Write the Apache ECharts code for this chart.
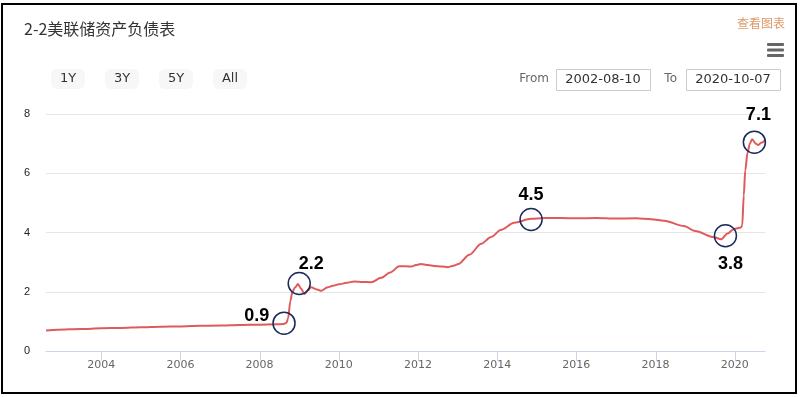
<!DOCTYPE html>
<html>
<head>
<meta charset="utf-8">
<title>2-2美联储资产负债表</title>
<script src="https://cdn.jsdelivr.net/npm/echarts@6.0.0/dist/echarts.min.js"></script>
<style>
  html, body { margin: 0; padding: 0; background: #fff; }
  #chart { position: absolute; left: 0; top: 0; width: 802px; height: 397px; }
  #frame { position: absolute; left: 1px; top: 3px; width: 796px; height: 391px; border: 2px solid #000; box-sizing: border-box; pointer-events: none; }
</style>
</head>
<body>
<div id="chart"></div>
<div id="frame"></div>
<script>
// --- 数据 (万亿美元) ---
const dates = [
    '2002-08-10', '2002-11-25', '2003-07-01', '2004-01-01', '2004-07-01', '2005-01-01',
    '2005-07-01', '2006-01-01', '2006-07-01', '2007-01-01', '2007-07-01', '2008-01-01',
    '2008-05-27', '2008-08-13', '2008-09-05', '2008-09-20', '2008-10-12', '2008-10-30',
    '2008-11-25', '2008-12-20', '2009-01-19', '2009-02-17', '2009-03-22', '2009-04-20',
    '2009-06-13', '2009-07-23', '2009-09-20', '2009-11-06', '2010-01-01', '2010-03-15',
    '2010-05-23', '2010-08-08', '2010-10-27', '2011-01-26', '2011-04-20', '2011-07-13',
    '2011-09-13', '2011-10-31', '2011-12-13', '2012-01-30', '2012-04-01', '2012-05-30',
    '2012-08-07', '2012-10-05', '2012-11-25', '2013-01-08', '2013-04-20', '2013-08-08',
    '2013-11-06', '2014-02-07', '2014-06-07', '2014-11-10', '2015-03-15', '2015-08-15',
    '2016-01-01', '2016-07-01', '2017-01-01', '2017-07-01', '2017-11-25', '2018-03-22',
    '2018-09-20', '2019-01-01', '2019-06-25', '2019-08-29', '2019-10-27', '2019-12-25',
    '2020-02-28', '2020-03-11', '2020-03-25', '2020-04-08', '2020-04-29', '2020-05-20',
    '2020-06-10', '2020-07-15', '2020-08-05', '2020-09-02', '2020-10-07'
];
const balance = [
    0.69, 0.72, 0.74, 0.77, 0.78, 0.80,
    0.82, 0.83, 0.85, 0.86, 0.88, 0.89,
    0.90, 0.91, 0.95, 1.10, 1.70, 2.00,
    2.15, 2.26, 2.10, 1.92, 2.05, 2.15,
    2.08, 2.03, 2.15, 2.20, 2.25, 2.30,
    2.35, 2.33, 2.32, 2.47, 2.65, 2.86,
    2.86, 2.85, 2.90, 2.94, 2.90, 2.87,
    2.85, 2.83, 2.88, 2.94, 3.25, 3.62,
    3.85, 4.09, 4.33, 4.46, 4.49, 4.49,
    4.48, 4.49, 4.47, 4.48, 4.45, 4.40,
    4.22, 4.05, 3.84, 3.77, 3.97, 4.12,
    4.17, 4.24, 5.25, 6.10, 6.70, 7.00,
    7.15, 7.00, 6.95, 7.03, 7.10
];

// 标注圈
const markDates = ['2008-08-14', '2009-01-01', '2014-11-10', '2019-10-08', '2020-07-01'];
const markValues = [0.94, 2.28, 4.44, 3.89, 7.05];
const markLabels = ['0.9', '2.2', '4.5', '3.8', '7.1'];

// 坐标轴
const tickYears = [2004, 2006, 2008, 2010, 2012, 2014, 2016, 2018, 2020];
const fromDate = '2002-08-10';
const toDate = '2020-10-07';
const rangeButtons = ['1Y', '3Y', '5Y', 'All'];

// --- 辅助函数 ---
const toTime = (s) => {
    const [y, m, d] = s.split('-').map(Number);
    return new Date(y, m - 1, d).getTime();
};
const tickTimes = tickYears.map(y => new Date(y, 0, 1).getTime());

// 标注文字位置 [position, distance, offset]
const markLabelLayout = [
    ['left', 3, [0, -7]],
    ['top', 1, [12, 2]],
    ['top', 6, [0, 2]],
    ['bottom', 6, [5, 2]],
    ['top', 8, [4, 2]]
];

const markData = markDates.map((d, i) => ({
    name: markLabels[i],
    coord: [toTime(d), markValues[i]],
    label: {
        position: markLabelLayout[i][0],
        distance: markLabelLayout[i][1],
        offset: markLabelLayout[i][2]
    }
}));

// --- 顶部控件 (按钮、日期框、菜单) ---
const graphics = [];
rangeButtons.forEach((t, i) => {
    const x = 51 + i * 54;
    graphics.push({
        type: 'rect', shape: { x: x, y: 69, width: 34, height: 20, r: 6 },
        style: { fill: '#f7f7f7' }
    });
    graphics.push({
        type: 'text', x: x + 17, y: 79,
        style: { text: t, fill: '#333', font: '13px "DejaVu Sans"', align: 'center', verticalAlign: 'middle' }
    });
});
graphics.push(
    { type: 'text', x: 549, y: 79, style: { text: 'From', fill: '#666', font: '12px "DejaVu Sans"', align: 'right', verticalAlign: 'middle' } },
    { type: 'rect', shape: { x: 556.5, y: 69.5, width: 94, height: 21 }, style: { fill: '#fff', stroke: '#ccc', lineWidth: 1 } },
    { type: 'text', x: 603, y: 80, style: { text: fromDate, fill: '#333', font: '13px "DejaVu Sans"', align: 'center', verticalAlign: 'middle' } },
    { type: 'text', x: 677, y: 79, style: { text: 'To', fill: '#666', font: '12px "DejaVu Sans"', align: 'right', verticalAlign: 'middle' } },
    { type: 'rect', shape: { x: 686.5, y: 69.5, width: 94, height: 21 }, style: { fill: '#fff', stroke: '#ccc', lineWidth: 1 } },
    { type: 'text', x: 733, y: 80, style: { text: toDate, fill: '#333', font: '13px "DejaVu Sans"', align: 'center', verticalAlign: 'middle' } },
    { type: 'text', x: 785, y: 23, style: { text: '查看图表', fill: '#dc9a6a', font: '12px "Noto Sans CJK SC"', align: 'right', verticalAlign: 'middle' } }
);
[43, 48.5, 54].forEach(y => {
    graphics.push({ type: 'rect', shape: { x: 767, y: y, width: 17, height: 3, r: 1 }, style: { fill: '#666' } });
});

// --- 图表 ---
const myChart = echarts.init(document.getElementById('chart'));

const option = {
    animation: false,
    backgroundColor: '#fff',
    title: {
        text: '2-2美联储资产负债表',
        left: 19, top: 16,
        textStyle: { fontSize: 16, fontWeight: 'normal', color: '#333', fontFamily: '"Noto Sans CJK SC"' }
    },
    graphic: graphics,
    grid: { left: 46, right: 37, top: 114, bottom: 46 },
    xAxis: {
        type: 'value',
        min: toTime(fromDate),
        max: toTime(toDate),
        axisLine: { lineStyle: { color: '#ccd6eb' } },
        axisTick: { show: false },
        axisLabel: {
            customValues: tickTimes,
            formatter: (v) => String(new Date(v).getFullYear()),
            color: '#666', fontSize: 11, fontFamily: '"DejaVu Sans"', margin: 9
        },
        splitLine: { show: false }
    },
    yAxis: {
        type: 'value',
        min: 0, max: 8, interval: 2,
        axisLine: { show: false },
        axisTick: { show: false },
        axisLabel: { color: '#222', fontSize: 11, fontFamily: 'Arial, "Liberation Sans"', margin: 16 },
        splitLine: { lineStyle: { color: '#e6e6e6' } }
    },
    series: [{
        // x 轴刻度线
        type: 'custom',
        clip: false,
        silent: true,
        data: tickTimes.map(t => [t, 0]),
        encode: { x: 0, y: 1 },
        renderItem: (params, api) => {
            const p = api.coord([api.value(0), 0]);
            const x = Math.round(p[0]) + 0.5;
            return {
                type: 'line',
                shape: { x1: x, y1: p[1], x2: x, y2: p[1] + 10 },
                style: { stroke: '#ccd6eb', lineWidth: 1 }
            };
        }
    }, {
        type: 'line',
        data: dates.map((d, i) => [toTime(d), balance[i]]),
        showSymbol: false,
        smooth: 0.3,
        smoothMonotone: 'x',
        lineStyle: { color: '#e05a5c', width: 2 },
        itemStyle: { color: '#e05a5c' },
        markPoint: {
            symbol: 'circle',
            symbolSize: 22,
            itemStyle: { color: 'rgba(0,0,0,0)', borderColor: '#1b2a5c', borderWidth: 1.5 },
            label: {
                show: true,
                formatter: '{b}',
                color: '#000',
                fontSize: 18,
                fontWeight: 'bold',
                fontFamily: 'Arial, "Liberation Sans"'
            },
            data: markData
        }
    }]
};
myChart.setOption(option);
</script>
</body>
</html>
